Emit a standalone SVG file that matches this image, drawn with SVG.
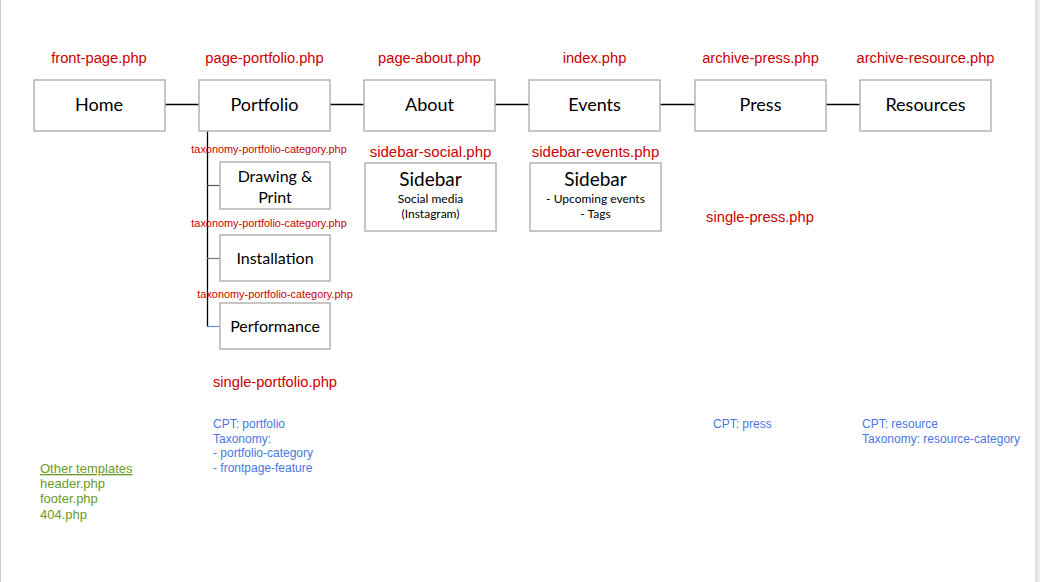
<svg xmlns="http://www.w3.org/2000/svg" width="1040" height="582" viewBox="0 0 1040 582">
<style>
.bx{fill:#fff;stroke:#b4b4b4;stroke-width:1.5}
.fn{font-family:"Liberation Sans",Arial,sans-serif;fill:#cc0000;font-size:14.7px;text-anchor:middle}
.tx{font-family:"Liberation Sans",Arial,sans-serif;fill:#cc0000;font-size:10.9px;text-anchor:middle}
.lb{font-family:Lato,"Open Sans",sans-serif;fill:#000;font-size:18px;text-anchor:middle}
.sm{font-family:Lato,"Open Sans",sans-serif;fill:#000;font-size:12px;text-anchor:middle}
.bl{font-family:"Liberation Sans",Arial,sans-serif;fill:#4a78e0;font-size:12px}
.gr{font-family:"Liberation Sans",Arial,sans-serif;fill:#6a9a28;font-size:13px}
.ln{stroke:#000;stroke-width:1.3;fill:none}
</style>
<rect x="0" y="0" width="1040" height="582" fill="#fff"/>
<rect x="1036" y="0" width="4" height="582" fill="#ececec"/>
<line x1="1036" y1="0" x2="1036" y2="582" stroke="#c8c8c8" stroke-width="1"/>
<line x1="0.5" y1="0" x2="0.5" y2="582" stroke="#d0d0d0" stroke-width="1"/>
<g id="connectors">
<line class="ln" x1="165" y1="104.5" x2="199" y2="104.5"/>
<line class="ln" x1="330" y1="104.5" x2="364" y2="104.5"/>
<line class="ln" x1="495" y1="104.5" x2="529" y2="104.5"/>
<line class="ln" x1="660" y1="104.5" x2="695" y2="104.5"/>
<line class="ln" x1="826" y1="104.5" x2="860" y2="104.5"/>
<line class="ln" x1="207.5" y1="131" x2="207.5" y2="327"/>
<line x1="207" y1="185.5" x2="220" y2="185.5" stroke="#555" stroke-width="1.2"/>
<line x1="207" y1="258.5" x2="220" y2="258.5" stroke="#777" stroke-width="1.2"/>
<line x1="207" y1="326.5" x2="220" y2="326.5" stroke="#5b8fd8" stroke-width="1.2"/>
</g>
<g id="home"><text class="fn" x="99" y="63">front-page.php</text><rect class="bx" x="34" y="80" width="131" height="51"/><text class="lb" x="99" y="111">Home</text></g>
<g id="portfolio"><text class="fn" x="264.5" y="63">page-portfolio.php</text><rect class="bx" x="199" y="80" width="131" height="51"/><text class="lb" x="264.5" y="111">Portfolio</text></g>
<g id="about"><text class="fn" x="429.5" y="63">page-about.php</text><rect class="bx" x="364" y="80" width="131" height="51"/><text class="lb" x="429.5" y="111">About</text></g>
<g id="events"><text class="fn" x="594.5" y="63">index.php</text><rect class="bx" x="529" y="80" width="131" height="51"/><text class="lb" x="594.5" y="111">Events</text></g>
<g id="press"><text class="fn" x="760.5" y="63">archive-press.php</text><rect class="bx" x="695" y="80" width="131" height="51"/><text class="lb" x="760.5" y="111">Press</text></g>
<g id="resources"><text class="fn" x="925.5" y="63">archive-resource.php</text><rect class="bx" x="860" y="80" width="131" height="51"/><text class="lb" x="925.5" y="111">Resources</text></g>
<g id="drawing"><text class="tx" x="269" y="153">taxonomy-portfolio-category.php</text><rect class="bx" x="220" y="162" width="110" height="47"/><text class="lb" x="275" y="182" style="font-size:16px">Drawing &amp;</text><text class="lb" x="275" y="203" style="font-size:16px">Print</text></g>
<g id="installation"><text class="tx" x="269" y="227">taxonomy-portfolio-category.php</text><rect class="bx" x="220" y="235" width="110" height="46"/><text class="lb" x="275" y="264" style="font-size:16px">Installation</text></g>
<g id="performance"><text class="tx" x="275" y="298">taxonomy-portfolio-category.php</text><rect class="bx" x="220" y="303" width="110" height="46"/><text class="lb" x="275" y="332" style="font-size:16px">Performance</text></g>
<g id="sidebar-social"><text class="fn" x="430.5" y="157" style="font-size:15px">sidebar-social.php</text><rect class="bx" x="365" y="163" width="131" height="68"/><text class="lb" x="430.5" y="186" style="font-size:19px">Sidebar</text><text class="sm" x="430.5" y="203">Social media</text><text class="sm" x="430.5" y="218">(Instagram)</text></g>
<g id="sidebar-events"><text class="fn" x="595.5" y="157" style="font-size:15px">sidebar-events.php</text><rect class="bx" x="530" y="163" width="131" height="68"/><text class="lb" x="595.5" y="186" style="font-size:19px">Sidebar</text><text class="sm" x="595.5" y="203">- Upcoming events</text><text class="sm" x="595.5" y="218">- Tags</text></g>
<g id="single-press"><text class="fn" x="760" y="222">single-press.php</text></g>
<g id="single-portfolio"><text class="fn" x="275" y="387">single-portfolio.php</text></g>
<g id="notes">
<text class="bl" x="213" y="428">CPT: portfolio</text>
<text class="bl" x="213" y="443">Taxonomy:</text>
<text class="bl" x="213" y="457">- portfolio-category</text>
<text class="bl" x="213" y="472">- frontpage-feature</text>
<text class="bl" x="713" y="428">CPT: press</text>
<text class="bl" x="862" y="428">CPT: resource</text>
<text class="bl" x="862" y="443">Taxonomy: resource-category</text>
<text class="gr" x="40" y="473" text-decoration="underline">Other templates</text>
<text class="gr" x="40" y="488">header.php</text>
<text class="gr" x="40" y="503">footer.php</text>
<text class="gr" x="40" y="519">404.php</text>
</g>
</svg>
